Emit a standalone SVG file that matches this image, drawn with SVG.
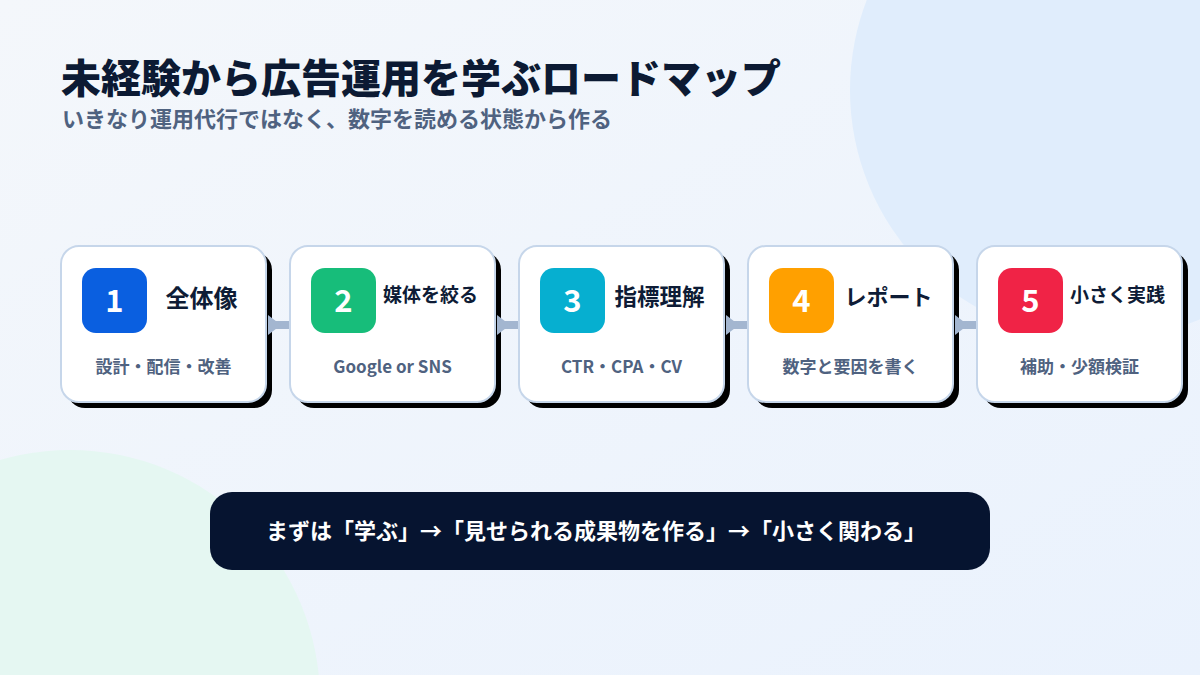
<svg xmlns="http://www.w3.org/2000/svg" width="1200" height="675" viewBox="0 0 1200 675">
  <defs>
    <linearGradient id="bg" x1="0" y1="0" x2="1" y2="1">
      <stop offset="0" stop-color="#f4f7fb"/>
      <stop offset="1" stop-color="#eaf2fd"/>
    </linearGradient>
    <marker id="arr" viewBox="0 0 13 20" refX="0" refY="10" markerWidth="13" markerHeight="20" markerUnits="userSpaceOnUse" orient="auto">
      <path d="M0,0 L13,10 L0,20 Z" fill="#a3b6d0"/>
    </marker>
  </defs>
  <style>
    .jp { font-family: "Noto Sans CJK JP", "Noto Sans", sans-serif; }
    .card { fill: #ffffff; stroke: #c6d6ea; stroke-width: 2; }
    .shadow { fill: #000000; }
    .num { fill: #ffffff; font-size: 31px; font-weight: 700; text-anchor: middle; }
    .ttl { fill: #0e1c36; font-weight: 700; text-anchor: middle; }
    .sub { fill: #4f6280; font-size: 17px; font-weight: 600; text-anchor: middle; }
    .conn { stroke: #a3b6d0; stroke-width: 8; fill: none; }
  </style>
  <rect width="1200" height="675" fill="url(#bg)"/>
  <circle cx="1100" cy="90" r="250" fill="#e0edfc"/>
  <circle cx="70" cy="700" r="250" fill="#e5f7f2"/>

  <text class="jp" x="61" y="93" font-size="40" font-weight="900" fill="#0c1a33">未経験から広告運用を学ぶロードマップ</text>
  <text class="jp" x="62" y="127" font-size="22" font-weight="600" fill="#4f6280">いきなり運用代行ではなく、数字を読める状態から作る</text>

  <g id="step1">
    <rect class="shadow" x="67" y="252" width="205" height="156" rx="18"/>
    <rect class="card" x="61" y="246" width="205" height="156" rx="18"/>
    <rect x="82" y="268" width="65" height="65" rx="14" fill="#0a5fe0"/>
    <text class="jp num" x="114.5" y="312">1</text>
    <text class="jp ttl" x="201.5" y="307" font-size="24">全体像</text>
    <text class="jp sub" x="163.5" y="373">設計・配信・改善</text>
  </g>
  <g id="step2">
    <rect class="shadow" x="296" y="252" width="205" height="156" rx="18"/>
    <rect class="card" x="290" y="246" width="205" height="156" rx="18"/>
    <rect x="311" y="268" width="65" height="65" rx="14" fill="#17bd7a"/>
    <text class="jp num" x="343.5" y="312">2</text>
    <text class="jp ttl" x="430.5" y="302" font-size="19">媒体を絞る</text>
    <text class="jp sub" x="392.5" y="373">Google or SNS</text>
  </g>
  <g id="step3">
    <rect class="shadow" x="525" y="252" width="205" height="156" rx="18"/>
    <rect class="card" x="519" y="246" width="205" height="156" rx="18"/>
    <rect x="540" y="268" width="65" height="65" rx="14" fill="#06afd0"/>
    <text class="jp num" x="572.5" y="312">3</text>
    <text class="jp ttl" x="659.5" y="305" font-size="22.5">指標理解</text>
    <text class="jp sub" x="621.5" y="373">CTR・CPA・CV</text>
  </g>
  <g id="step4">
    <rect class="shadow" x="754" y="252" width="205" height="156" rx="18"/>
    <rect class="card" x="748" y="246" width="205" height="156" rx="18"/>
    <rect x="769" y="268" width="65" height="65" rx="14" fill="#ffa000"/>
    <text class="jp num" x="801.5" y="312">4</text>
    <text class="jp ttl" x="888.5" y="305" font-size="22">レポート</text>
    <text class="jp sub" x="850.5" y="373">数字と要因を書く</text>
  </g>
  <g id="step5">
    <rect class="shadow" x="983" y="252" width="205" height="156" rx="18"/>
    <rect class="card" x="977" y="246" width="205" height="156" rx="18"/>
    <rect x="998" y="268" width="65" height="65" rx="14" fill="#f02346"/>
    <text class="jp num" x="1030.5" y="312">5</text>
    <text class="jp ttl" x="1117.5" y="302" font-size="19">小さく実践</text>
    <text class="jp sub" x="1079.5" y="373">補助・少額検証</text>
  </g>

  <g id="connectors">
    <line class="conn" x1="268" y1="325" x2="289" y2="325" marker-start="url(#arr)"/>
    <line class="conn" x1="497" y1="325" x2="518" y2="325" marker-start="url(#arr)"/>
    <line class="conn" x1="726" y1="325" x2="747" y2="325" marker-start="url(#arr)"/>
    <line class="conn" x1="955" y1="325" x2="976" y2="325" marker-start="url(#arr)"/>
  </g>

  <g id="banner">
    <rect x="210" y="492" width="780" height="78" rx="22" fill="#061430"/>
    <text class="jp" x="596" y="539" font-size="22" font-weight="700" fill="#ffffff" text-anchor="middle">まずは「学ぶ」→「見せられる成果物を作る」→「小さく関わる」</text>
  </g>
</svg>
